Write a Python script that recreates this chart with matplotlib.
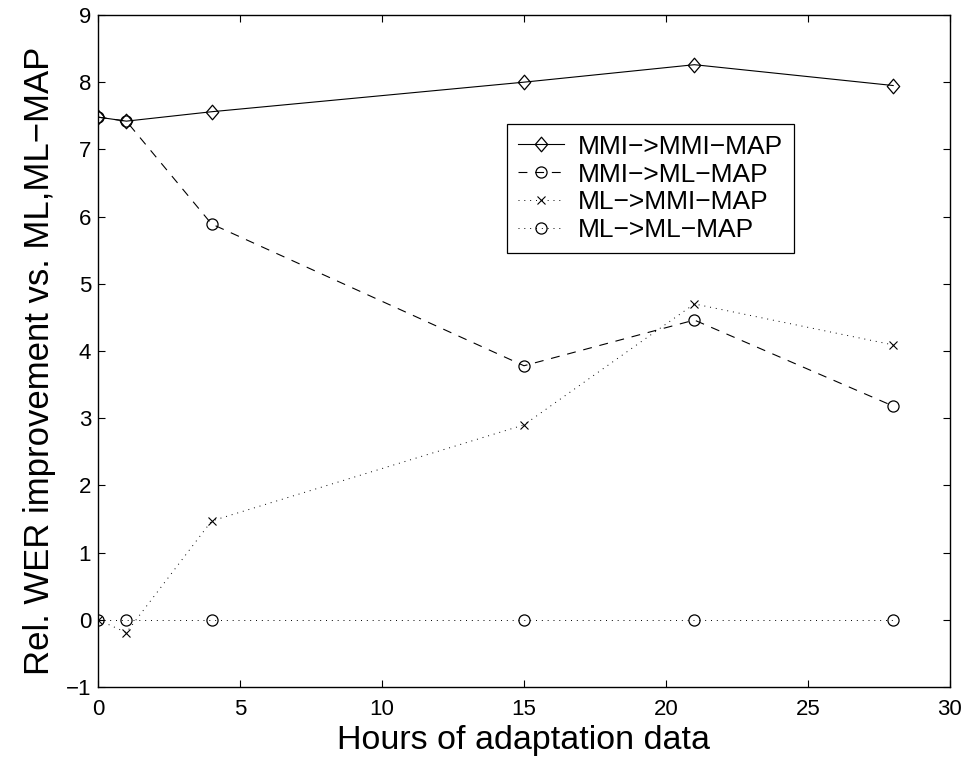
import matplotlib
matplotlib.use('Agg')
import matplotlib.pyplot as plt
from matplotlib.path import Path

plt.rc('font', family='Liberation Sans')
plt.rc('axes', linewidth=1.0)
plt.rc('xtick', labelsize=16, direction='in', top=True)
plt.rc('ytick', labelsize=16, direction='in', right=True)
plt.rc('xtick.major', size=5, width=0.8, pad=9)
plt.rc('ytick.major', size=5, width=0.8, pad=5)

hours = [0, 1, 4, 15, 21, 28]
mmi_mmimap = [7.48, 7.42, 7.56, 8.00, 8.26, 7.95]
mmi_mlmap = [7.48, 7.42, 5.89, 3.78, 4.46, 3.18]
ml_mmimap = [0.0, -0.19, 1.47, 2.90, 4.70, 4.09]
ml_mlmap = [0.0, 0.0, 0.0, 0.0, 0.0, 0.0]

labels = ['MMI\u2212>MMI\u2212MAP', 'MMI\u2212>ML\u2212MAP',
          'ML\u2212>MMI\u2212MAP', 'ML\u2212>ML\u2212MAP']

# matlab style diamond, a bit wider than mpl's thin one
diamond = Path([(0, -1), (0.85, 0), (0, 1), (-0.85, 0), (0, -1)],
               [Path.MOVETO, Path.LINETO, Path.LINETO, Path.LINETO, Path.CLOSEPOLY])

fig = plt.figure(figsize=(9.67, 7.6), dpi=100)
ax = fig.add_axes([0.1013, 0.0961, 0.8811, 0.8842])

ax.plot(hours, mmi_mmimap, '-', color='k', lw=0.8, marker=diamond, ms=10.5,
        mfc='none', mew=0.9, label=labels[0])
ax.plot(hours, mmi_mlmap, color='k', lw=0.8, ls=(0, (8, 7)), marker='o', ms=8,
        mfc='none', mew=0.9, label=labels[1])
ax.plot(hours, ml_mmimap, color='k', lw=0.7, ls=(0, (1, 5)), marker='x', ms=6,
        mew=0.8, label=labels[2])
ax.plot(hours, ml_mlmap, color='k', lw=0.7, ls=(0, (1, 5)), marker='o', ms=8,
        mfc='none', mew=0.9, label=labels[3])

ax.set_xlim(0, 30)
ax.set_ylim(-1, 9)
ax.set_xticks(range(0, 31, 5))
ax.set_yticks(range(-1, 10))

ax.set_xlabel('Hours of adaptation data', fontsize=24.5, labelpad=3.5)
ax.set_ylabel('Rel. WER improvement vs. ML,ML\u2212MAP', fontsize=25, labelpad=6.5)
ax.yaxis.label.set_y(0.485)

leg = ax.legend(loc='upper left', bbox_to_anchor=(507/967, 1-124/760),
                bbox_transform=fig.transFigure, borderaxespad=0,
                fontsize=19, frameon=True, fancybox=False, framealpha=1,
                edgecolor='k', handlelength=1.75, handletextpad=0.55,
                labelspacing=0.15, borderpad=0.4)
leg.get_frame().set_linewidth(0.9)

fig.savefig('out.png', dpi=100)
